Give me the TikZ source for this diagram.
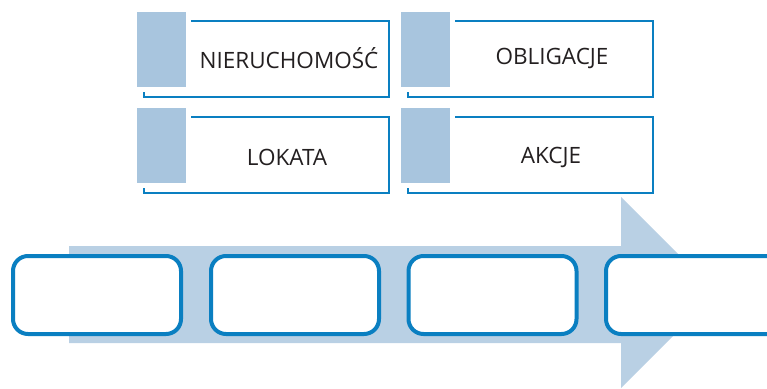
\documentclass[tikz,border=0pt]{standalone}
\usepackage{fontspec}
\setmainfont{Open Sans}
\usepackage{xcolor}
\usepackage{tikz}
\usetikzlibrary{positioning,calc}
\definecolor{frameblue}{RGB}{10,127,193}
\definecolor{tabblue}{RGB}{168,197,222}
\definecolor{arrowblue}{RGB}{185,208,228}
\definecolor{txtgray}{RGB}{35,31,32}
\tikzset{
  kadr/.style={draw=frameblue,line width=1.5pt,minimum width=245pt,minimum height=76pt,inner sep=0pt},
  klapka/.style={fill=tabblue,draw=white,line width=5pt,minimum width=54pt,minimum height=80pt,inner sep=0pt},
  etyk/.style={font=\fontsize{22.5}{26}\selectfont,text=txtgray,inner sep=0pt},
  etap/.style={draw=frameblue,fill=white,line width=4pt,rounded corners=15pt,minimum width=168pt,minimum height=78pt,inner sep=0pt}
}

\begin{document}
\begin{tikzpicture}[x=1pt,y=-1pt]
  \useasboundingbox (0,0) rectangle (767,388);
  \clip (0,0) rectangle (767,388);
  % instrumenty
  \node[kadr] (k1) at (266.5,59) {};
  \node[kadr] (k2) at (530.5,59) {};
  \node[kadr] (k3) at (266.5,155) {};
  \node[kadr] (k4) at (530.5,155) {};
  \node[klapka] (t1) at (161.5,49.5) {};
  \node[klapka] (t2) at (425,49.5) {};
  \node[klapka] (t3) at (161.5,145.5) {};
  \node[klapka] (t4) at (425,145.5) {};
  \node[etyk] (n1) at (289,58) {NIERUCHOMOŚĆ};
  \node[etyk] (n2) at (552,58) {OBLIGACJE};
  \node[etyk] (n3) at (287,157) {LOKATA};
  \node[etyk] (n4) at (551,157) {AKCJE};
  % strzalka
  \fill[arrowblue] (69,246) -- (621,246) -- (621,197) -- (716.5,292.5)
    -- (621,388) -- (621,343) -- (69,343) -- cycle;
  \node[etap] (e1) at (97,295) {};
  \node[etap] (e2) at (295,295) {};
  \node[etap] (e3) at (492.5,295) {};
  \node[etap,minimum width=200pt] (e4) at (706,295) {};
\end{tikzpicture}
\end{document}
